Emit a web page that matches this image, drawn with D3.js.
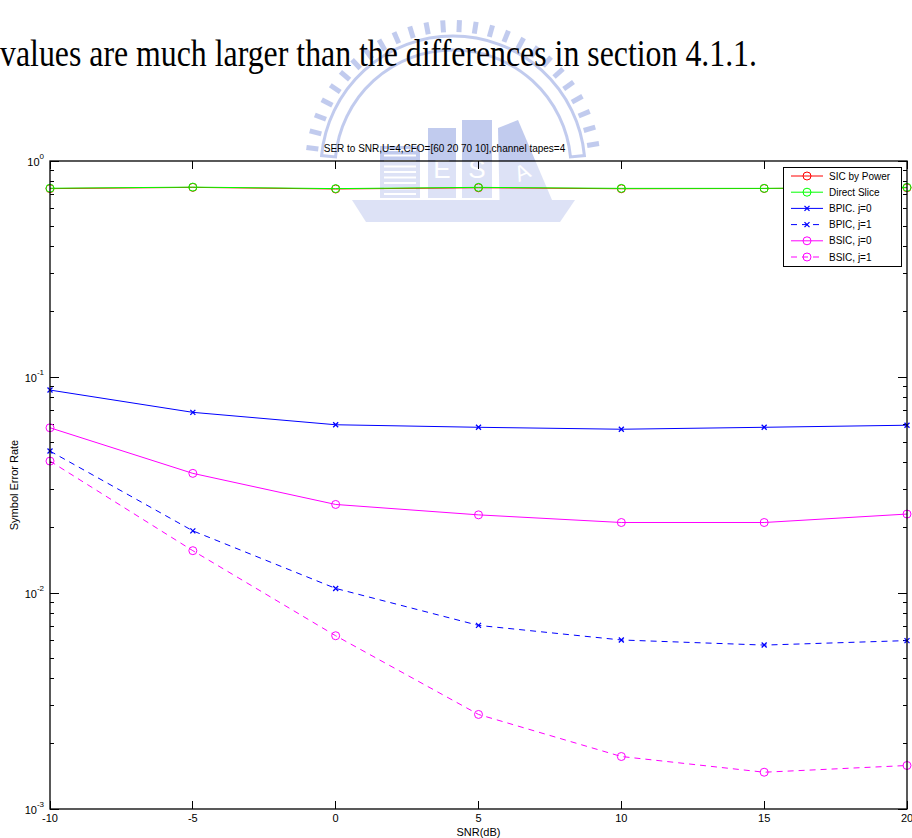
<!DOCTYPE html>
<html>
<head>
<meta charset="utf-8">
<script src="https://cdn.jsdelivr.net/npm/d3@7"></script>
<style>
  html, body { margin: 0; padding: 0; background: #fff; }
  svg { display: block; }
  text { font-family: "Liberation Sans", Arial, sans-serif; }
  text.body-text { font-family: "Liberation Serif", "Times New Roman", serif; }
</style>
</head>
<body>
<svg id="page" width="912" height="838"></svg>
<script>
// SNR sweep (dB)
const snr = [-10, -5, 0, 5, 10, 15, 20];

// Symbol error rate per detector
const sicByPower  = [0.745, 0.755, 0.742, 0.752, 0.744, 0.746, 0.752];
const directSlice = [0.748, 0.757, 0.745, 0.755, 0.747, 0.747, 0.755];
const bpicJ0      = [0.087, 0.0686, 0.0601, 0.0585, 0.0573, 0.0585, 0.0598];
const bpicJ1      = [0.0454, 0.0194, 0.0105, 0.00708, 0.00606, 0.00574, 0.00602];
const bsicJ0      = [0.0582, 0.0358, 0.0257, 0.0230, 0.0212, 0.0212, 0.0232];
const bsicJ1      = [0.0408, 0.0157, 0.00634, 0.00274, 0.00175, 0.00148, 0.00159];

const seriesNames = ["SIC by Power", "Direct Slice", "BPIC. j=0", "BPIC, j=1", "BSIC, j=0", "BSIC, j=1"];
const xTicks = [-10, -5, 0, 5, 10, 15, 20];
const yDecades = [-3, -2, -1, 0];

(function () {
const series = [
  { name: seriesNames[0], values: sicByPower,  color: "#ff0000", dash: null,  marker: "o" },
  { name: seriesNames[1], values: directSlice, color: "#00ff00", dash: null,  marker: "o" },
  { name: seriesNames[2], values: bpicJ0,      color: "#0000ff", dash: null,  marker: "x" },
  { name: seriesNames[3], values: bpicJ1,      color: "#0000ff", dash: "6,5", marker: "x" },
  { name: seriesNames[4], values: bsicJ0,      color: "#ff00ff", dash: null,  marker: "o" },
  { name: seriesNames[5], values: bsicJ1,      color: "#ff00ff", dash: "6,5", marker: "o" }
];

const svg = d3.select("#page");

// ---- faint university emblem behind the page text ----
const logo = svg.append("g").attr("opacity", 0.5);
const lc = "#8598de";
const cx = 453, cy = 168;
// gear teeth along the upper rim
for (let a = -172; a <= -8; a += 6.5) {
  const r = a * Math.PI / 180;
  logo.append("rect")
    .attr("x", -2.5).attr("y", -6).attr("width", 5).attr("height", 12)
    .attr("fill", lc)
    .attr("transform", `translate(${cx + 142 * Math.cos(r)},${cy + 142 * Math.sin(r)}) rotate(${a + 90})`);
}
logo.append("path")
  .attr("d", d3.arc()({ innerRadius: 118, outerRadius: 132, startAngle: -Math.PI * 0.47, endAngle: Math.PI * 0.47 }))
  .attr("transform", `translate(${cx},${cy})`)
  .attr("fill", "none").attr("stroke", lc).attr("stroke-width", 3);
// striped building
const bld = logo.append("g");
bld.append("rect").attr("x", 380).attr("y", 146).attr("width", 40).attr("height", 52).attr("fill", lc);
for (let i = 0; i < 9; i++) {
  bld.append("line").attr("x1", 384).attr("x2", 416)
    .attr("y1", 150 + i * 5.5).attr("y2", 150 + i * 5.5)
    .attr("stroke", "#fff").attr("stroke-width", 2);
}
logo.append("rect").attr("x", 428).attr("y", 128).attr("width", 28).attr("height", 70).attr("fill", lc);
logo.append("rect").attr("x", 462).attr("y", 120).attr("width", 30).attr("height", 78).attr("fill", lc);
logo.append("text").attr("x", 442).attr("y", 178).attr("text-anchor", "middle")
  .attr("font-size", 26).attr("fill", "#fff").text("E");
logo.append("text").attr("x", 477).attr("y", 178).attr("text-anchor", "middle")
  .attr("font-size", 26).attr("fill", "#fff").text("S");
logo.append("path").attr("d", "M498,128 L518,120 L552,200 L500,222 Z").attr("fill", lc);
logo.append("text").attr("x", 522).attr("y", 180).attr("text-anchor", "middle")
  .attr("font-size", 22).attr("fill", "#fff")
  .attr("transform", "rotate(-25,522,172)").text("A");
logo.append("path").attr("d", "M352,200 L575,200 L560,222 L366,222 Z").attr("fill", lc);

// ---- running document text ----
svg.append("text")
  .attr("class", "body-text")
  .attr("x", 0).attr("y", 66)
  .attr("font-size", 37).attr("fill", "#000")
  .attr("textLength", 757).attr("lengthAdjust", "spacingAndGlyphs")
  .text("values are much larger than the differences in section 4.1.1.");

// ---- chart ----
const pL = 50, pR = 907, pT = 161, pB = 809;
const x = d3.scaleLinear().domain([-10, 20]).range([pL, pR]);
const y = d3.scaleLog().domain([1e-3, 1]).range([pB, pT]);

// soften the emblem where it falls inside the axes
svg.append("rect").attr("x", pL).attr("y", pT).attr("width", pR - pL).attr("height", pB - pT)
  .attr("fill", "#fff").attr("opacity", 0.45);

// title
svg.append("text").attr("x", (pL + pR) / 2 - 34).attr("y", 152)
  .attr("text-anchor", "middle").attr("font-size", 10).attr("fill", "#000")
  .text("SER to SNR,U=4,CFO=[60 20 70 10],channel tapes=4");

// ticks (pointing inward on all four sides)
const minorTicks = [];
yDecades.slice(0, -1).forEach(d => {
  for (let m = 2; m <= 9; m++) minorTicks.push(m * Math.pow(10, d));
});
const majorTicks = yDecades.map(d => Math.pow(10, d));

const axisG = svg.append("g").attr("stroke", "#000").attr("stroke-width", 1).attr("shape-rendering", "crispEdges");
majorTicks.forEach(v => {
  axisG.append("line").attr("x1", pL).attr("x2", pL + 9).attr("y1", y(v)).attr("y2", y(v));
  axisG.append("line").attr("x1", pR).attr("x2", pR - 9).attr("y1", y(v)).attr("y2", y(v));
});
minorTicks.forEach(v => {
  axisG.append("line").attr("x1", pL).attr("x2", pL + 4).attr("y1", y(v)).attr("y2", y(v));
  axisG.append("line").attr("x1", pR).attr("x2", pR - 4).attr("y1", y(v)).attr("y2", y(v));
});
xTicks.forEach(v => {
  axisG.append("line").attr("x1", x(v)).attr("x2", x(v)).attr("y1", pB).attr("y2", pB - 8);
  axisG.append("line").attr("x1", x(v)).attr("x2", x(v)).attr("y1", pT).attr("y2", pT + 8);
});

// y tick labels: 10 with a superscript exponent
yDecades.forEach(d => {
  const t = svg.append("text").attr("x", 44).attr("y", y(Math.pow(10, d)) + 4.5)
    .attr("text-anchor", "end").attr("font-size", 11).attr("fill", "#000");
  t.append("tspan").text("10");
  t.append("tspan").attr("dy", -7).attr("font-size", 8).text(String(d));
});

// x tick labels
xTicks.forEach(v => {
  svg.append("text").attr("x", x(v)).attr("y", 822)
    .attr("text-anchor", "middle").attr("font-size", 11).attr("fill", "#000").text(String(v));
});

// axis titles
svg.append("text").attr("x", (pL + pR) / 2).attr("y", 836)
  .attr("text-anchor", "middle").attr("font-size", 11).attr("fill", "#000").text("SNR(dB)");
svg.append("text").attr("transform", `translate(18,${(pT + pB) / 2}) rotate(-90)`)
  .attr("text-anchor", "middle").attr("font-size", 11).attr("fill", "#000").text("Symbol Error Rate");

// series lines and markers
const line = d3.line().x((d, i) => x(snr[i])).y(d => y(d));
function drawMarker(g, kind, px, py, color) {
  if (kind === "o") {
    g.append("circle").attr("cx", px).attr("cy", py).attr("r", 4)
      .attr("fill", "none").attr("stroke", color).attr("stroke-width", 1);
  } else {
    g.append("path").attr("d", `M${px - 2.5},${py - 2.5}L${px + 2.5},${py + 2.5}M${px - 2.5},${py + 2.5}L${px + 2.5},${py - 2.5}`)
      .attr("stroke", color).attr("stroke-width", 1.3).attr("fill", "none");
  }
}
const plotG = svg.append("g");
series.forEach(s => {
  plotG.append("path").datum(s.values).attr("d", line)
    .attr("fill", "none").attr("stroke", s.color).attr("stroke-width", 1)
    .attr("stroke-dasharray", s.dash);
  s.values.forEach((v, i) => drawMarker(plotG, s.marker, x(snr[i]), y(v), s.color));
});

// legend
const lg = svg.append("g");
lg.append("rect").attr("x", 783.5).attr("y", 167.5).attr("width", 118).attr("height", 99)
  .attr("fill", "#fff").attr("stroke", "#000").attr("stroke-width", 1);
series.forEach((s, i) => {
  const ly = 176 + i * 16.2;
  lg.append("line").attr("x1", 791).attr("x2", 823).attr("y1", ly).attr("y2", ly)
    .attr("stroke", s.color).attr("stroke-width", 1).attr("stroke-dasharray", s.dash);
  drawMarker(lg, s.marker, 807, ly, s.color);
  lg.append("text").attr("x", 829).attr("y", ly + 3.6).attr("font-size", 10).attr("fill", "#000").text(s.name);
});

// axes box on top
svg.append("rect").attr("x", pL).attr("y", pT).attr("width", pR - pL).attr("height", pB - pT)
  .attr("fill", "none").attr("stroke", "#000").attr("stroke-width", 1.3);
})();
</script>
</body>
</html>
